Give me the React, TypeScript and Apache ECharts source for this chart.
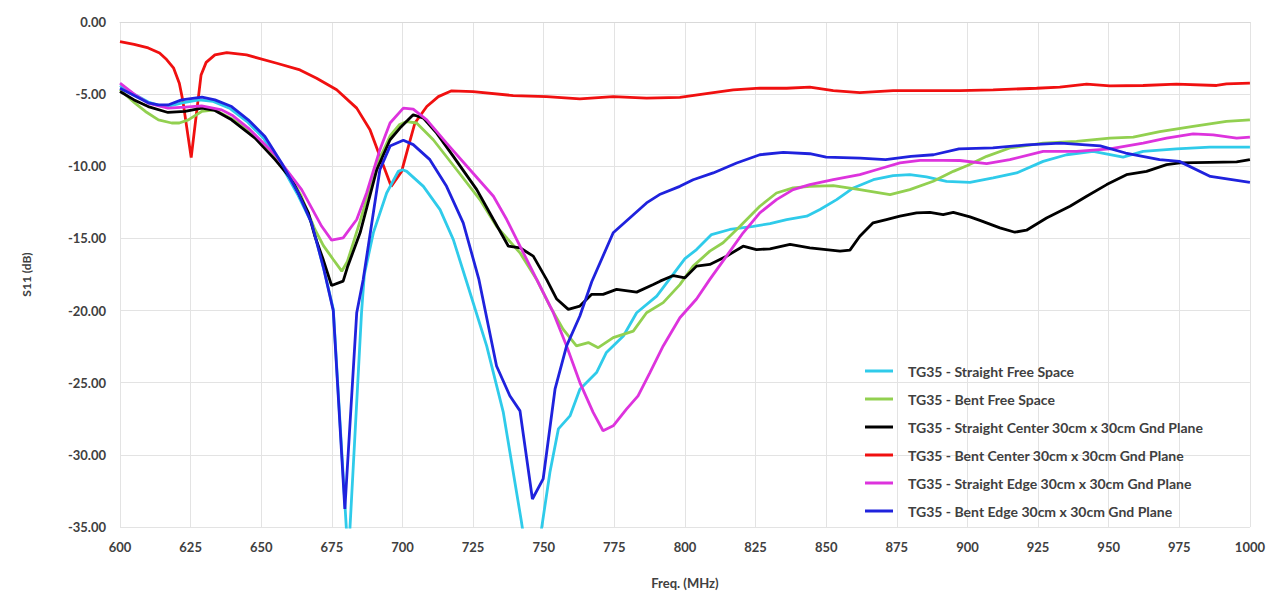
import React, { useEffect, useRef } from "react";
import * as echarts from "echarts";

const legendNames = [
  "TG35 - Straight Free Space",
  "TG35 - Bent Free Space",
  "TG35 - Straight Center 30cm x 30cm Gnd Plane",
  "TG35 - Bent Center 30cm x 30cm Gnd Plane",
  "TG35 - Straight Edge 30cm x 30cm Gnd Plane",
  "TG35 - Bent Edge 30cm x 30cm Gnd Plane",
];
const colors = ["#2FCBEA", "#92D050", "#000000", "#F01010", "#DD33DD", "#1F22DD"];

const xTicks = [600, 625, 650, 675, 700, 725, 750, 775, 800, 825, 850, 875, 900, 925, 950, 975, 1000];
const yTicks = [0, -5, -10, -15, -20, -25, -30, -35];

// TG35 - Straight Free Space
const straightFreeFreq = [600, 605, 610, 615, 618, 622, 628, 633, 639, 645, 651, 657, 663, 668, 672, 675.5, 680.8, 685.5, 686.5, 689.7, 694.4, 698.5, 700, 701.5, 707.4, 713.3, 718, 722.7, 729.8, 735.7, 742, 745.9, 752.2, 755.2, 759.3, 762.8, 768.7, 772.2, 778.2, 782.9, 790, 795, 800, 804.1, 809.4, 815.9, 824.2, 830.1, 836, 843.1, 847.8, 853.7, 859.6, 866.7, 873.7, 879.6, 885.5, 892.6, 900.9, 909.1, 917.4, 926.8, 935.1, 944.5, 955.1, 962.2, 974, 985.8, 1000];
const straightFreeVal = [-4.4, -5.0, -5.55, -5.85, -5.8, -5.6, -5.4, -5.5, -6.0, -6.9, -8.1, -9.9, -12.0, -14.0, -17.0, -19.9, -37.3, -20.15, -17.5, -14.6, -11.85, -10.35, -10.24, -10.35, -11.39, -13.0, -15.08, -18.0, -22.45, -27.06, -34.5, -39.5, -31.2, -28.2, -27.3, -25.45, -24.3, -22.9, -21.76, -20.15, -19.0, -17.7, -16.4, -15.77, -14.73, -14.38, -14.16, -13.97, -13.69, -13.46, -13.0, -12.31, -11.5, -10.93, -10.65, -10.58, -10.74, -11.04, -11.11, -10.81, -10.46, -9.66, -9.2, -8.97, -9.36, -8.97, -8.8, -8.67, -8.67];

// TG35 - Bent Free Space
const bentFreeFreq = [600, 605.3, 609, 613.6, 618.3, 621, 624.2, 628.9, 633.6, 639.5, 645.4, 651.3, 659.6, 664, 669, 672, 675.5, 678.5, 680.5, 685, 690.9, 695.6, 699, 701.5, 705, 710.9, 719.2, 727.4, 733.3, 741.6, 747.5, 752.2, 756.9, 761.6, 765.8, 769.3, 774.6, 781.7, 786.4, 792.3, 798.2, 802.9, 808.8, 813.5, 819.5, 826.5, 832.4, 838.3, 844.2, 852.5, 861.9, 872.6, 879.6, 887.9, 895, 900, 906.8, 915, 926.8, 938.6, 950.4, 958.7, 968.1, 979.9, 991.7, 1000];
const bentFreeVal = [-4.7, -5.62, -6.2, -6.78, -7.0, -7.0, -6.78, -6.2, -6.09, -6.7, -7.5, -8.6, -10.46, -12.0, -14.38, -15.5, -16.46, -17.27, -16.6, -13.8, -9.9, -7.9, -7.1, -6.9, -7.0, -8.16, -10.24, -12.31, -14.16, -16.0, -17.84, -19.69, -21.3, -22.45, -22.22, -22.57, -21.88, -21.42, -20.15, -19.45, -18.2, -16.92, -15.88, -15.3, -14.16, -12.77, -11.85, -11.5, -11.39, -11.34, -11.62, -11.96, -11.62, -11.04, -10.35, -9.95, -9.31, -8.73, -8.39, -8.28, -8.05, -7.98, -7.59, -7.24, -6.89, -6.78];

// TG35 - Straight Center 30cm x 30cm Gnd Plane
const straightCenterFreq = [600, 605, 610, 617, 623, 629, 633.6, 639.5, 647.8, 654.9, 660.8, 666.7, 669, 672, 674.9, 679, 680.5, 685, 690.9, 695.6, 699.1, 703.8, 707.4, 712.1, 718, 726.3, 732.2, 737.5, 741.6, 746.3, 751, 754.6, 758.7, 762.8, 766.9, 771, 775.8, 782.9, 788.8, 791.2, 795.9, 800, 804.1, 808.8, 814.7, 820.6, 825.3, 830.1, 837.2, 844.2, 854.9, 858.4, 861.9, 866.6, 871.3, 876.1, 882, 886.7, 891.4, 895, 900.9, 904.4, 911.5, 916.8, 920.9, 928, 936.3, 942.2, 949.3, 956.3, 963.4, 970.5, 975.2, 985.8, 995.3, 1000];
const straightCenterVal = [-4.82, -5.4, -5.86, -6.27, -6.2, -5.97, -6.13, -6.78, -8.05, -9.54, -10.93, -13.23, -14.85, -16.5, -18.26, -17.96, -17.0, -14.61, -10.24, -8.16, -7.35, -6.43, -6.66, -7.7, -9.31, -11.62, -13.69, -15.54, -15.65, -16.23, -17.84, -19.2, -19.92, -19.69, -18.88, -18.88, -18.53, -18.72, -18.19, -17.96, -17.57, -17.73, -16.92, -16.8, -16.23, -15.54, -15.77, -15.72, -15.42, -15.65, -15.88, -15.81, -14.85, -13.92, -13.69, -13.46, -13.23, -13.19, -13.35, -13.19, -13.51, -13.75, -14.27, -14.57, -14.43, -13.58, -12.77, -12.08, -11.27, -10.58, -10.35, -9.89, -9.77, -9.73, -9.7, -9.54];

// TG35 - Bent Center 30cm x 30cm Gnd Plane
const bentCenterFreq = [600, 605, 610, 614, 616.5, 619, 621, 622.2, 625.2, 628.7, 630.5, 633.6, 637.8, 644.8, 655.5, 663.7, 669.6, 676.7, 683.8, 688.5, 692, 696, 699.7, 702.1, 704.4, 708.6, 712.7, 717.4, 725, 739.2, 751, 762.8, 774.6, 786.4, 798.2, 808.8, 817.1, 826.5, 836, 844.2, 852.5, 861.9, 873.7, 885.5, 897.3, 909.1, 924.5, 932.7, 942.2, 950.4, 962.2, 974, 988.2, 991.7, 1000];
const bentCenterVal = [-1.36, -1.55, -1.8, -2.15, -2.6, -3.2, -4.24, -5.4, -9.4, -3.67, -2.8, -2.28, -2.12, -2.28, -2.86, -3.32, -3.9, -4.7, -5.97, -7.47, -9.31, -11.39, -10.35, -8.62, -7.0, -5.86, -5.17, -4.77, -4.82, -5.1, -5.17, -5.33, -5.17, -5.28, -5.22, -4.93, -4.7, -4.59, -4.59, -4.52, -4.75, -4.89, -4.75, -4.75, -4.75, -4.7, -4.59, -4.52, -4.31, -4.43, -4.4, -4.31, -4.4, -4.29, -4.24];

// TG35 - Straight Edge 30cm x 30cm Gnd Plane
const straightEdgeFreq = [600, 605, 610, 617, 623, 628.9, 636, 640, 645.4, 654.9, 664.3, 671.4, 674.9, 679, 683.8, 687.3, 692, 695.6, 700.3, 703.8, 708.6, 715.6, 723.9, 732.2, 736.9, 742.8, 747.5, 753.4, 758.1, 762.8, 767.5, 771, 774.6, 779.3, 783.4, 787.6, 792.3, 798.2, 804.1, 808.8, 814.7, 820.6, 826.5, 832.4, 838.3, 844.2, 852.5, 861.9, 867.8, 876.1, 883.2, 891.4, 897.3, 906.8, 915, 926.8, 938.6, 950.4, 962.2, 970.5, 979.9, 987, 995.3, 1000];
const straightEdgeVal = [-4.24, -5.0, -5.62, -5.97, -5.9, -5.81, -6.09, -6.5, -7.35, -9.2, -11.62, -14.16, -15.12, -14.96, -13.69, -11.85, -8.85, -7.0, -5.97, -6.04, -6.78, -8.39, -10.24, -12.08, -13.69, -16.0, -17.84, -20.15, -22.45, -24.99, -27.06, -28.33, -27.99, -26.83, -25.91, -24.3, -22.45, -20.5, -19.2, -17.84, -16.23, -14.61, -13.23, -12.31, -11.62, -11.27, -10.93, -10.58, -10.24, -9.77, -9.59, -9.59, -9.6, -9.82, -9.54, -8.97, -8.97, -8.8, -8.39, -8.05, -7.75, -7.82, -8.05, -7.98];

// TG35 - Bent Edge 30cm x 30cm Gnd Plane
const bentEdgeFreq = [600, 605, 610, 613.6, 617, 621.8, 629, 633.6, 639.5, 645.4, 651.3, 657.2, 663.1, 667.8, 672, 675.5, 679.6, 683.8, 686.1, 692, 695.6, 700.3, 703.8, 709.7, 715.6, 721.5, 727, 733.3, 738, 741.6, 746, 749.8, 754, 758.1, 762.8, 767, 774.6, 786.4, 791, 798.2, 802.9, 810, 818.3, 826.5, 834.8, 844.2, 850, 862, 871, 880, 888, 897, 909, 921, 933, 947, 956, 968, 975, 986, 1000];
const bentEdgeVal = [-4.6, -5.1, -5.6, -5.75, -5.75, -5.4, -5.2, -5.4, -5.86, -6.78, -7.93, -9.77, -11.85, -13.92, -17.0, -20.0, -33.75, -20.15, -17.84, -10.24, -8.6, -8.2, -8.5, -9.54, -11.39, -13.92, -17.8, -23.84, -25.9, -26.95, -33.06, -31.67, -25.45, -22.45, -20.38, -18.0, -14.61, -12.54, -11.96, -11.39, -10.93, -10.46, -9.77, -9.2, -9.04, -9.13, -9.36, -9.43, -9.54, -9.31, -9.2, -8.8, -8.73, -8.51, -8.39, -8.58, -9.08, -9.54, -9.66, -10.7, -11.11];

const freqs = [straightFreeFreq, bentFreeFreq, straightCenterFreq, bentCenterFreq, straightEdgeFreq, bentEdgeFreq];
const vals = [straightFreeVal, bentFreeVal, straightCenterVal, bentCenterVal, straightEdgeVal, bentEdgeVal];

const FONT = "Lato, 'Open Sans', sans-serif";

export default function App() {
  const ref = useRef<HTMLDivElement>(null);
  useEffect(() => {
    document.body.style.margin = "0";
    const chart = echarts.init(ref.current!, undefined, { renderer: "svg" });
    const series = legendNames.map((name, i) => ({
      name,
      type: "line",
      showSymbol: false,
      symbol: "none",
      clip: true,
      z: [3, 4, 5, 2, 6, 7][i],
      lineStyle: { width: 2.8, color: colors[i] },
      itemStyle: { color: colors[i] },
      data: freqs[i].map((f, j) => [f, vals[i][j]]),
    }));
    chart.setOption({
      animation: false,
      backgroundColor: "#ffffff",
      grid: { left: 120, right: 18, top: 22, bottom: 66 },
      xAxis: {
        type: "value",
        min: xTicks[0],
        max: xTicks[xTicks.length - 1],
        interval: 25,
        name: "Freq. (MHz)",
        nameLocation: "middle",
        nameGap: 49,
        nameTextStyle: { fontFamily: FONT, fontWeight: "bold", fontSize: 13, color: "#404040" },
        axisLine: { show: true, lineStyle: { color: "#d9d9d9" } },
        axisTick: { show: false },
        axisLabel: {
          margin: 13,
          fontFamily: FONT,
          fontWeight: "bold",
          fontSize: 13,
          color: "#404040",
          formatter: (v: number) => String(v),
        },
        splitLine: { show: true, lineStyle: { color: "#e3e3e3", width: 1 } },
      },
      yAxis: {
        type: "value",
        min: yTicks[yTicks.length - 1],
        max: yTicks[0],
        interval: 5,
        name: "S11 (dB)",
        nameLocation: "middle",
        nameGap: 88,
        nameRotate: 90,
        nameTextStyle: { fontFamily: FONT, fontWeight: "bold", fontSize: 12, color: "#404040" },
        axisLine: { show: false },
        axisTick: { show: false },
        axisLabel: {
          margin: 14,
          fontFamily: FONT,
          fontWeight: "bold",
          fontSize: 13,
          color: "#404040",
          formatter: (v: number) => v.toFixed(2),
        },
        splitLine: { show: true, lineStyle: { color: "#e3e3e3", width: 1 } },
      },
      legend: {
        data: legendNames,
        orient: "vertical",
        left: 860,
        top: 359,
        itemWidth: 28,
        itemHeight: 3,
        itemGap: 14,
        icon: "rect",
        textStyle: { fontFamily: FONT, fontWeight: "bold", fontSize: 14, color: "#404040", padding: [0, 0, 0, 10] },
        backgroundColor: "rgba(255,255,255,0)",
      },
      series,
    });
    return () => chart.dispose();
  }, []);
  return <div ref={ref} style={{ width: 1268, height: 594 }} />;
}
